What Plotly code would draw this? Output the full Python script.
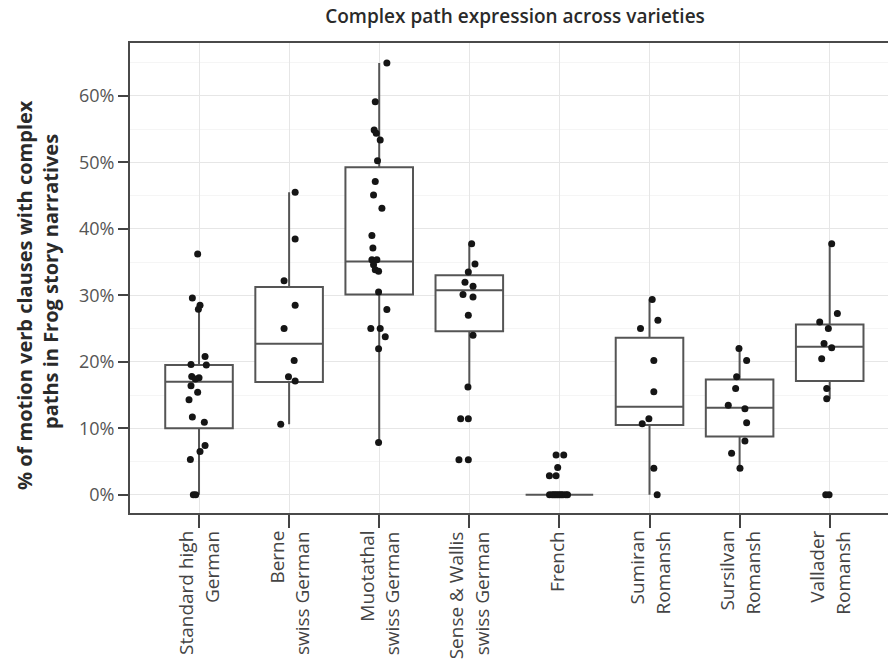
import plotly.graph_objects as go

# Variety labels (two lines each, printed vertically under the axis)
label_top = ["Standard high", "Berne", "Muotathal", "Sense & Wallis", "French",
             "Sumiran", "Sursilvan", "Vallader"]
label_bottom = ["German", "swiss German", "swiss German", "swiss German", "",
                "Romansh", "Romansh", "Romansh"]

# Box summaries (% of motion verb clauses with complex paths)
box_lower = [0.0, 10.6, 7.85, 16.2, 0.0, 0.0, 4.0, 14.45]
box_q1 = [10.0, 16.95, 30.1, 24.6, 0.0, 10.5, 8.75, 17.1]
box_median = [17.0, 22.7, 35.1, 30.75, 0.0, 13.25, 13.1, 22.25]
box_q3 = [19.5, 31.25, 49.25, 33.0, 0.0, 23.6, 17.35, 25.6]
box_upper = [28.5, 45.5, 64.95, 37.75, 0.0, 29.35, 22.0, 37.75]

# Individual narrators per variety, with their horizontal jitter (category units)
std_german = [36.2, 29.6, 28.5, 27.9, 20.8, 19.6, 19.5, 17.8, 17.6, 17.4,
              16.4, 15.4, 14.3, 11.7, 10.9, 7.4, 6.5, 5.3, 0.0, 0.0]
std_german_jit = [-0.015, -0.074, 0.011, -0.007, 0.067, -0.089, 0.081, -0.081, 0.0, -0.04,
                  -0.089, -0.015, -0.111, -0.074, 0.059, 0.067, 0.011, -0.096, -0.063, -0.037]

berne = [45.5, 38.45, 32.2, 28.5, 25.0, 20.2, 17.75, 17.1, 10.6]
berne_jit = [0.067, 0.067, -0.056, 0.067, -0.056, 0.056, -0.007, 0.067, -0.093]

muotathal = [64.95, 59.1, 54.85, 54.35, 53.35, 50.25, 47.1, 45.1, 43.1, 39.0,
             37.1, 35.35, 35.35, 34.6, 33.85, 33.6, 30.5, 27.85, 25.0, 25.0,
             23.75, 21.95, 7.85]
muotathal_jit = [0.085, -0.044, -0.056, -0.033, 0.011, -0.019, -0.044, -0.063, 0.03, -0.081,
                 -0.07, -0.081, -0.026, -0.063, -0.044, -0.007, -0.007, 0.085, -0.093, 0.011,
                 0.067, -0.007, -0.007]

sense_wallis = [37.75, 34.7, 33.5, 31.95, 31.35, 30.1, 29.75, 27.0, 24.0, 16.2,
                11.45, 11.45, 5.25, 5.25]
sense_wallis_jit = [0.026, 0.063, -0.011, -0.048, 0.041, -0.07, 0.041, -0.011, 0.041, -0.015,
                    -0.096, -0.011, -0.115, -0.011]

french = [6.0, 6.0, 4.1, 2.85, 2.85, 0.0, 0.0, 0.0, 0.0, 0.0, 0.0, 0.0, 0.0, 0.0, 0.0]
french_jit = [-0.037, 0.048, -0.019, -0.111, -0.037, -0.11, -0.08, -0.06, -0.04, -0.02,
              0.0, 0.02, 0.04, 0.07, 0.09]

sumiran = [29.35, 26.25, 25.0, 20.2, 15.5, 11.45, 10.7, 4.0, 0.0]
sumiran_jit = [0.03, 0.093, -0.1, 0.048, 0.048, -0.007, -0.081, 0.048, 0.085]

sursilvan = [22.0, 20.2, 17.75, 16.0, 13.45, 12.95, 10.85, 8.1, 6.25, 4.0]
sursilvan_jit = [-0.007, 0.078, -0.033, -0.044, -0.126, 0.059, 0.078, 0.059, -0.089, 0.004]

vallader = [37.75, 27.25, 26.0, 25.0, 22.75, 22.1, 20.45, 16.0, 14.45, 0.0, 0.0]
vallader_jit = [0.022, 0.085, -0.111, -0.015, -0.063, 0.022, -0.089, -0.033, -0.033, -0.044, -0.007]

groups = [(std_german, std_german_jit), (berne, berne_jit), (muotathal, muotathal_jit),
          (sense_wallis, sense_wallis_jit), (french, french_jit), (sumiran, sumiran_jit),
          (sursilvan, sursilvan_jit), (vallader, vallader_jit)]

positions = list(range(len(label_top)))

fig = go.Figure()

# Boxes from the precomputed summaries
fig.add_trace(go.Box(
    x=positions, q1=box_q1, median=box_median, q3=box_q3,
    lowerfence=box_lower, upperfence=box_upper,
    width=0.75, whiskerwidth=0, fillcolor="white",
    line=dict(color="#555555", width=2), boxpoints=False,
    hoverinfo="skip", showlegend=False,
))

# Jittered points
px, py = [], []
for i, (vals, jit) in enumerate(groups):
    for v, j in zip(vals, jit):
        px.append(i + j)
        py.append(v)
fig.add_trace(go.Scatter(
    x=px, y=py, mode="markers",
    marker=dict(color="#151515", size=7, line=dict(width=0)),
    showlegend=False, hoverinfo="skip",
))

FONT = "Open Sans"

# Category labels, each line rotated and hung from the axis
for i, (a, b) in enumerate(zip(label_top, label_bottom)):
    lines = [(a, -13), (b, 13)] if b else [(a, -3)]
    for txt, dx in lines:
        fig.add_annotation(
            x=i, y=0, xref="x", yref="paper", xanchor="center", yanchor="top",
            xshift=dx, yshift=-16, text=txt, textangle=-90, showarrow=False,
            font=dict(family=FONT, size=19, color="#444444"),
        )

# Y axis title (two lines)
fig.add_annotation(
    x=0, y=(513 - 295) / 470, xref="paper", yref="paper", xanchor="center", yanchor="middle",
    xshift=-106, text="% of motion verb clauses with complex", textangle=-90, showarrow=False,
    font=dict(family=FONT, size=20, color="#2a2a2a", weight="bold"),
)
fig.add_annotation(
    x=0, y=(513 - 282) / 470, xref="paper", yref="paper", xanchor="center", yanchor="middle",
    xshift=-80, text="paths in Frog story narratives", textangle=-90, showarrow=False,
    font=dict(family=FONT, size=20, color="#2a2a2a", weight="bold"),
)

fig.update_layout(
    width=888, height=665,
    margin=dict(l=130, r=0, t=43, b=152),
    paper_bgcolor="white", plot_bgcolor="white",
    title=dict(text="Complex path expression across varieties",
               x=(515 / 888), xanchor="center", y=1 - 16 / 665, yanchor="middle",
               font=dict(family=FONT, size=19, color="#2a2a2a", weight=600)),
    xaxis=dict(
        range=[-0.766, 7.647], tickvals=positions, showticklabels=False,
        ticks="outside", ticklen=13, tickwidth=1.5, tickcolor="#444444",
        showline=True, linecolor="#4a4a4a", linewidth=2, mirror=True,
        showgrid=True, gridcolor="#e6e6e6", gridwidth=1.3, zeroline=False,
    ),
    yaxis=dict(
        range=[-2.74, 67.94], tick0=0, dtick=10, ticksuffix="%",
        ticks="outside", ticklen=10, tickwidth=1.5, tickcolor="#444444",
        tickfont=dict(family=FONT, size=18, color="#555555"),
        showline=True, linecolor="#4a4a4a", linewidth=2,
        showgrid=True, gridcolor="#e6e6e6", gridwidth=1.3, zeroline=False,
        minor=dict(dtick=5, showgrid=True, gridcolor="#f5f5f5", gridwidth=0.8),
    ),
)

fig.write_html("out.html")
